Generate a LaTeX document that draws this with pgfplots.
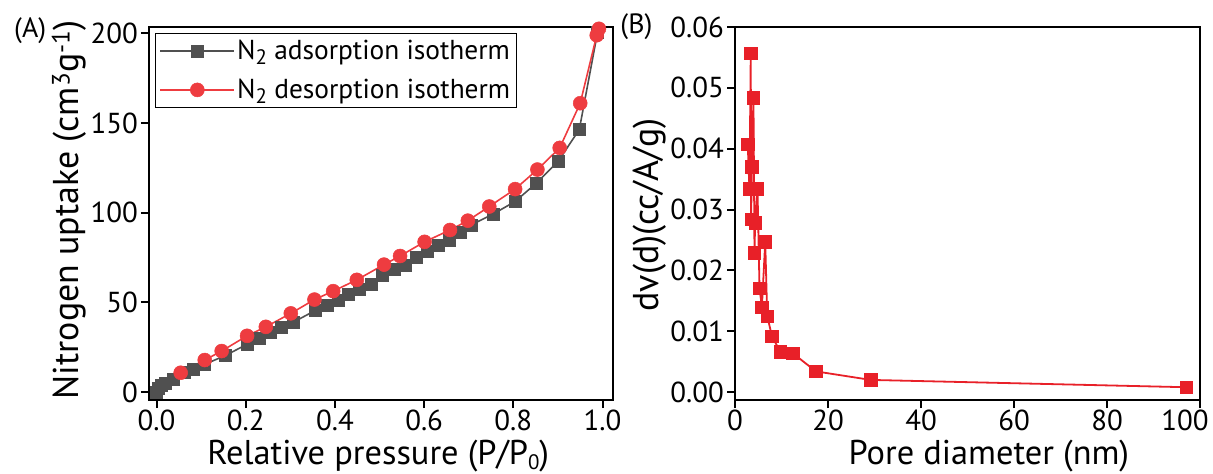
\documentclass[border=0pt]{standalone}
\usepackage{pgfplots}
\pgfplotsset{compat=1.18}
\usepackage{fontspec}
\setmainfont{PT Sans}
\definecolor{adsgray}{RGB}{80,80,80}
\definecolor{desred}{RGB}{238,60,64}
\definecolor{psdred}{RGB}{232,32,40}
\newcommand{\lowsub}[1]{{\fontsize{21}{21}\selectfont\raisebox{-5bp}{#1}}}
\pgfplotsset{
  common/.style={
    scale only axis, height=373bp,
    axis line style={line width=2.2bp},
    tick align=outside, tick pos=left,
    major tick length=8bp,
    every tick/.style={line width=2bp, black},
    /pgf/number format/assume math mode=true,
    ticklabel style={font=\fontsize{29}{31}\selectfont, inner sep=1bp},
    yticklabel style={xshift=-2bp},
    xticklabel style={yshift=-1bp},
    label style={font=\fontsize{34.5}{36}\selectfont, inner sep=0pt},
  }
}
\begin{document}
\begin{tikzpicture}
\useasboundingbox (-149bp,-74bp) rectangle (1064bp,400bp);
\begin{axis}[common, width=464bp,
  at={(0bp,0bp)}, anchor=south west,
  xmin=-0.017, xmax=1.0235, ymin=-4.5, ymax=203.5,
  xtick={0,0.2,0.4,0.6,0.8,1.0}, ytick={0,50,100,150,200},
  xticklabel style={/pgf/number format/.cd, fixed, fixed zerofill, precision=1},
  xlabel={Relative pressure (P/P\lowsub{0})},
  ylabel={Nitrogen uptake (cm\textsuperscript{3}g\textsuperscript{-1})},
  xlabel style={at={(axis description cs:0.494,-0.150)}, anchor=center},
  ylabel style={font=\fontsize{36}{38}\selectfont, at={(axis description cs:-0.172,0.51)}, anchor=center},
  legend style={at={(axis description cs:0.013,0.984)}, anchor=north west,
    draw=black, line width=1bp, font=\fontsize{27.5}{29}\selectfont,
    row sep=14bp, inner xsep=4bp, inner ysep=5bp, cells={anchor=west}},
  legend image code/.code={\draw[mark repeat=2,mark phase=2,#1] plot coordinates {(0bp,0bp) (37bp,0bp) (74bp,0bp)};},
  clip=false,
]
\addplot[color=adsgray, line width=1.6bp, mark=square*, mark size=6bp, mark options={fill=adsgray, draw=adsgray, line width=0.5bp}] coordinates {
(0.000,0.0) (0.004,2.2) (0.010,3.6) (0.019,5.0) (0.037,7.0) (0.063,10.7) (0.082,12.5)
(0.108,15.4) (0.155,20.4) (0.203,26.6) (0.230,29.8) (0.255,33.1) (0.280,36.0)
(0.306,38.8) (0.355,45.3) (0.382,48.1) (0.407,50.9) (0.430,54.3) (0.455,57.5)
(0.481,60.3) (0.507,65.0) (0.534,68.2) (0.557,70.6) (0.582,74.9) (0.606,78.7)
(0.632,81.8) (0.657,84.6) (0.681,89.3) (0.705,93.1) (0.754,99.1) (0.804,106.2)
(0.852,116.5) (0.901,128.7) (0.948,146.4) (0.989,200.7)
};
\addlegendentry{N\lowsub{2} adsorption isotherm}
\addplot[color=desred, line width=1.6bp, mark=*, mark size=7bp, mark options={fill=desred, draw=desred, line width=0.5bp}] coordinates {
(0.054,10.7) (0.108,17.8) (0.146,22.8) (0.203,31.3) (0.245,36.3) (0.301,43.8)
(0.354,51.5) (0.396,56.2) (0.449,62.5) (0.510,71.0) (0.546,75.8) (0.601,83.7)
(0.658,90.3) (0.698,95.5) (0.746,103.4) (0.804,113.1) (0.854,124.0) (0.904,136.1)
(0.950,161.0) (0.987,198.9) (0.992,202.5)
};
\addlegendentry{N\lowsub{2} desorption isotherm}
\node[font=\fontsize{28}{30}\selectfont] at (axis description cs:-0.256,0.990) {(A)};
\end{axis}
\begin{axis}[common, width=465bp,
  at={(586bp,0bp)}, anchor=south west,
  xmin=0, xmax=100, ymin=-0.0013, ymax=0.0600,
  xtick={0,20,40,60,80,100},
  xticklabels={0,20,40,60,80,\hspace*{-30bp}100},
  ytick={0,0.01,0.02,0.03,0.04,0.05,0.06},
  yticklabel style={/pgf/number format/.cd, fixed, fixed zerofill, precision=2},
  scaled y ticks=false,
  xlabel={Pore diameter (nm)},
  ylabel={dv(d)(cc/A/g)},
  xlabel style={at={(axis description cs:0.546,-0.150)}, anchor=center},
  ylabel style={font=\fontsize{36}{38}\selectfont, at={(axis description cs:-0.184,0.496)}, anchor=center},
  clip=false,
]
\addplot[color=psdred, line width=1.8bp, mark=square*, mark size=6.2bp, mark options={fill=psdred, draw=psdred, line width=0.5bp}] coordinates {
(2.74,0.0407) (3.10,0.0334) (3.39,0.0557) (3.47,0.0284) (3.61,0.0370)
(3.97,0.0484) (4.19,0.0229) (4.33,0.0278) (4.84,0.0334) (5.27,0.0171)
(5.78,0.0139) (6.50,0.0247) (6.93,0.0125) (7.94,0.0092) (9.75,0.0066)
(12.4,0.0064) (17.4,0.0034) (29.2,0.0020) (97.0,0.0008)
};
\node[font=\fontsize{28}{30}\selectfont] at (axis description cs:-0.212,1.0) {(B)};
\end{axis}
\end{tikzpicture}
\end{document}
